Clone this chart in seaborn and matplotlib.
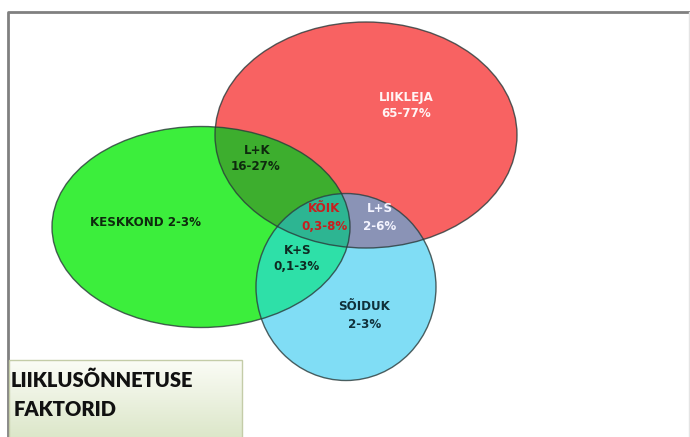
import numpy as np
import matplotlib
matplotlib.use("Agg")
import matplotlib.pyplot as plt
from matplotlib.patches import Ellipse, Polygon, Rectangle
import seaborn as sns

# Data --------------------------------------------------------------
set_names = ["LIIKLEJA", "KESKKOND", "SÕIDUK"]
set_ranges = ["65-77%", "2-3%", "2-3%"]
pair_names = ["L+K", "L+S", "K+S"]
pair_ranges = ["16-27%", "2-6%", "0,1-3%"]
all_name = "KÕIK"
all_range = "0,3-8%"
box_title = ["LIIKLUSÕNNETUSE", "FAKTORID"]
# --------------------------------------------------------------------

# ellipse geometry in pixel coords (x, y, width, height)
geo = {"L": (366, 135, 302, 226),
       "K": (201, 227, 298, 201),
       "S": (346, 287, 180, 187)}
col = {"L": "#f86262", "K": "#3cee3c", "S": "#80ddf5",
       "LK": "#3dae2e", "LS": "#8a93b6", "KS": "#2ee0a8", "LKS": "#2db592"}

sns.set_theme(style="white")
plt.rcParams['font.family'] = ['DejaVu Sans']

fig = plt.figure(figsize=(6.9, 4.37), dpi=100)
ax = fig.add_axes([0, 0, 1, 1])
ax.set_xlim(0, 690)
ax.set_ylim(437, 0)
ax.axis("off")


def ell(k, **kw):
    x, y, w, h = geo[k]
    return Ellipse((x, y), w, h, **kw)


def boundary(k, n=400):
    x, y, w, h = geo[k]
    t = np.linspace(0, 2 * np.pi, n, endpoint=False)
    return np.column_stack([x + w / 2 * np.cos(t), y + h / 2 * np.sin(t)])


def inside(k, p):
    x, y, w, h = geo[k]
    return ((p[:, 0] - x) / (w / 2)) ** 2 + ((p[:, 1] - y) / (h / 2)) ** 2 <= 1


# frame
ax.plot([8, 8, 700], [440, 11.5, 11.5], color="#808080", lw=2, zorder=0)
ax.plot([689, 689], [12, 440], color="#e4e4e4", lw=1, zorder=0)

# base ellipses
for k in ["L", "K", "S"]:
    ax.add_patch(ell(k, facecolor=col[k], edgecolor="none", zorder=1))

# pairwise overlaps
clipL = ell("L", facecolor="none", edgecolor="none")
clipK = ell("K", facecolor="none", edgecolor="none")
ax.add_patch(clipL)
ax.add_patch(clipK)
p = ell("K", facecolor=col["LK"], edgecolor="none", zorder=2)
ax.add_patch(p)
p.set_clip_path(clipL)
p = ell("S", facecolor=col["LS"], edgecolor="none", zorder=2)
ax.add_patch(p)
p.set_clip_path(clipL)
p = ell("S", facecolor=col["KS"], edgecolor="none", zorder=2)
ax.add_patch(p)
p.set_clip_path(clipK)

# triple overlap (convex intersection)
pts = []
for k, others in [("L", "KS"), ("K", "LS"), ("S", "LK")]:
    b = boundary(k)
    m = inside(others[0], b) & inside(others[1], b)
    pts.append(b[m])
pts = np.vstack(pts)
c = pts.mean(axis=0)
pts = pts[np.argsort(np.arctan2(pts[:, 1] - c[1], pts[:, 0] - c[0]))]
ax.add_patch(Polygon(pts, closed=True, facecolor=col["LKS"], edgecolor="none", zorder=3))

# outlines
for k in ["L", "K", "S"]:
    ax.add_patch(ell(k, facecolor="none", edgecolor="#2a3a3a", lw=1, alpha=0.8, zorder=4))

fs = 8.6
tk = dict(ha="center", va="center", fontsize=fs, fontweight="bold", zorder=5)
ax.text(406, 97, set_names[0], color="#fff4f4", **tk)
ax.text(406, 113.5, set_ranges[0], color="#fff4f4", **tk)
ax.text(145, 222, set_names[1] + " " + set_ranges[1], color="#0e2a0e", **tk)
ax.text(364, 307, set_names[2], color="#10303a", **tk)
ax.text(364.5, 324.5, set_ranges[2], color="#10303a", **tk)
ax.text(257, 150, pair_names[0], color="#0e2a0e", **tk)
ax.text(256, 167, pair_ranges[0], color="#0e2a0e", **tk)
ax.text(380, 208.5, pair_names[1], color="#f4f4ff", **tk)
ax.text(380, 226, pair_ranges[1], color="#f4f4ff", **tk)
ax.text(297.5, 250, pair_names[2], color="#0e2a22", **tk)
ax.text(297, 266, pair_ranges[2], color="#0e2a22", **tk)
ax.text(324, 208.5, all_name, color="#c81e1e", **tk)
ax.text(324, 226, all_range, color="#c81e1e", **tk)

# title box with gradient
grad = np.linspace(0, 1, 100)[:, None]
cmap = matplotlib.colors.LinearSegmentedColormap.from_list("g", ["#fbfcf6", "#dbe6c8"])
ax.imshow(grad, extent=[9, 242, 440, 360], cmap=cmap, aspect="auto", zorder=6)
ax.add_patch(Rectangle((9, 360), 233, 80, facecolor="none", edgecolor="#c4cca8", lw=1, zorder=7))
ax.text(11, 380, box_title[0], ha="left", va="center", fontsize=14.5, fontweight="heavy",
        family=["Lato", "DejaVu Sans"], color="#111111", zorder=8)
ax.text(14, 409, box_title[1], ha="left", va="center", fontsize=14.5, fontweight="heavy",
        family=["Lato", "DejaVu Sans"], color="#111111", zorder=8)
ax.set_xlim(0, 690)
ax.set_ylim(437, 0)

fig.savefig("out.png", dpi=100)
